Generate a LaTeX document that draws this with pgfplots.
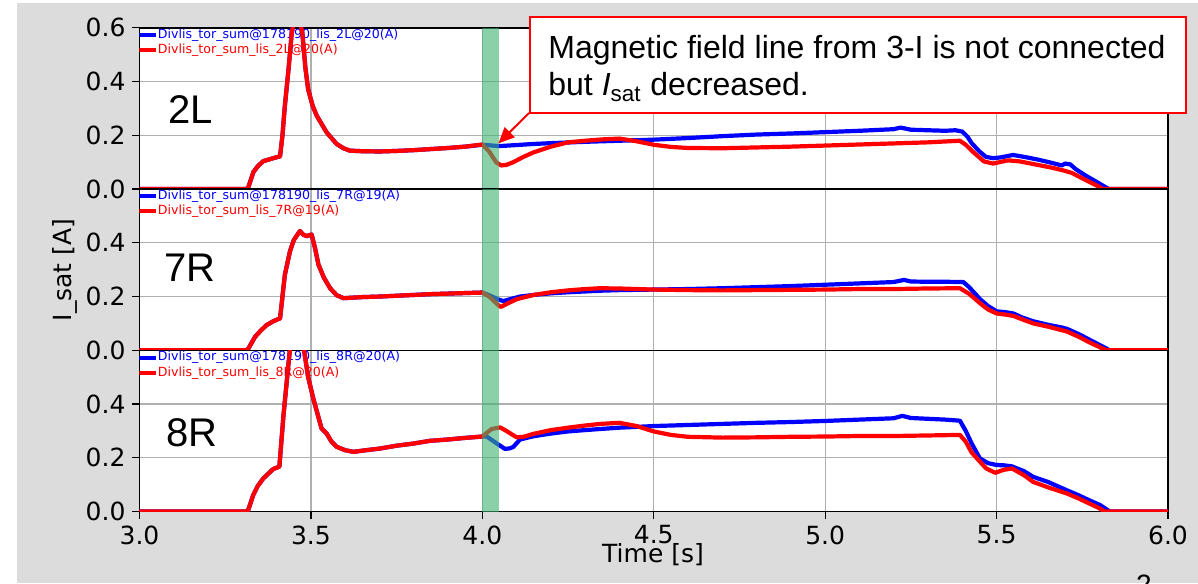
\documentclass[border=0pt]{standalone}
\usepackage{fontspec}
\setmainfont{DejaVu Sans}
\newfontfamily\arial{Liberation Sans}
\usepackage{pgfplots}
\pgfplotsset{compat=1.18}
\usetikzlibrary{arrows.meta}
\definecolor{bggray}{RGB}{220,220,220}
\definecolor{band}{RGB}{60,179,113}
\definecolor{gridgray}{RGB}{176,176,176}

\pgfplotsset{
  panel/.style={
    scale only axis, width=514.25pt, height=80.6pt, anchor=south west,
    xmin=3, xmax=6, ymin=0, ymax=0.6,
    xtick={3,3.5,4,4.5,5,5.5,6},
    grid=major, grid style={gridgray, line width=0.6pt},
    axis line style={line width=0.7pt},
    tick align=outside, tick pos=left, major tick length=3.5pt,
    tick style={black, line width=0.6pt},
    axis background/.style={fill=white},
    ticklabel style={font=\fontsize{12.5}{13}\selectfont},
    /pgf/number format/assume math mode=true,
    /pgf/number format/fixed, /pgf/number format/fixed zerofill,
    /pgf/number format/precision=1,
  },
  bl/.style={blue, line width=2.1pt, line join=round},
  rd/.style={red, line width=2.1pt, line join=round},
}
% legend drawn under the curves, as in the original
\newcommand{\leg}[2]{%
  \draw[blue, line width=2pt] (rel axis cs:0,0.955) -- (rel axis cs:0.0165,0.955);
  \node[anchor=west, inner sep=0, blue, font=\fontsize{6.3}{6.3}\selectfont] at (rel axis cs:0.0175,0.955) {#1};
  \draw[red, line width=2pt] (rel axis cs:0,0.861) -- (rel axis cs:0.0165,0.861);
  \node[anchor=west, inner sep=0, red, font=\fontsize{6.3}{6.3}\selectfont] at (rel axis cs:0.0175,0.861) {#2};
}
\newcommand{\band}{\fill[band, opacity=0.6] (axis cs:4.0,0) rectangle (axis cs:4.05,0.6);}

\begin{document}
\begin{tikzpicture}
\fill[white] (0,0) rectangle (599pt,291.5pt);
\fill[bggray] (8.5pt,0) rectangle (599pt,290pt);

% ---- 2L ----
\begin{axis}[panel, at={(69.75pt,196.95pt)}, xticklabels={}, ytick={0,0.2,0.4,0.6}]
\leg{Divlis\_tor\_sum@178190\_lis\_2L@20(A)}{Divlis\_tor\_sum\_lis\_2L@20(A)}
\addplot[red, line width=1pt] coordinates {(3,0)(6,0)};
\addplot[bl] coordinates {
(3.0,0)(3.31,0)(3.317,0.005)(3.332,0.063)(3.345,0.085)(3.361,0.104)(3.39,0.115)(3.41,0.122)
(3.417,0.2)(3.424,0.31)(3.435,0.45)(3.444,0.58)(3.452,0.64)(3.466,0.64)(3.475,0.58)(3.484,0.45)
(3.492,0.371)(3.505,0.31)(3.517,0.273)(3.53,0.245)(3.546,0.211)(3.56,0.19)(3.575,0.168)
(3.595,0.152)(3.614,0.143)(3.65,0.141)(3.70,0.14)(3.75,0.142)(3.80,0.145)(3.85,0.149)
(3.90,0.153)(3.95,0.158)(4.0,0.165)(4.05,0.16)(4.1,0.164)(4.15,0.168)(4.2,0.171)(4.3,0.176)
(4.4,0.18)(4.5,0.184)(4.6,0.19)(4.7,0.197)(4.8,0.203)(4.9,0.207)(5.0,0.212)(5.1,0.217)
(5.2,0.223)(5.22,0.229)(5.25,0.221)(5.3,0.219)(5.35,0.217)(5.38,0.219)(5.40,0.214)
(5.415,0.195)(5.428,0.17)(5.45,0.14)(5.469,0.12)(5.49,0.115)(5.512,0.118)(5.548,0.127)
(5.58,0.12)(5.62,0.11)(5.66,0.098)(5.69,0.088)(5.70,0.095)(5.715,0.092)(5.73,0.075)
(5.76,0.05)(5.79,0.028)(5.822,0.004)(5.83,0)(6.0,0)};
\addplot[rd] coordinates {
(3.0,0)(3.31,0)(3.317,0.005)(3.332,0.063)(3.345,0.085)(3.361,0.104)(3.39,0.115)(3.41,0.122)
(3.417,0.2)(3.424,0.31)(3.435,0.45)(3.444,0.58)(3.452,0.64)(3.466,0.64)(3.475,0.58)(3.484,0.45)
(3.492,0.371)(3.505,0.31)(3.517,0.273)(3.53,0.245)(3.546,0.211)(3.56,0.19)(3.575,0.168)
(3.595,0.152)(3.614,0.143)(3.65,0.141)(3.70,0.14)(3.75,0.142)(3.80,0.145)(3.85,0.149)
(3.90,0.153)(3.95,0.158)(4.0,0.166)(4.02,0.14)(4.04,0.1)(4.055,0.088)(4.07,0.09)(4.09,0.1)
(4.12,0.12)(4.15,0.137)(4.2,0.158)(4.25,0.174)(4.3,0.18)(4.35,0.185)(4.4,0.188)(4.45,0.178)
(4.5,0.165)(4.55,0.157)(4.6,0.153)(4.7,0.152)(4.8,0.155)(4.9,0.158)(5.0,0.162)(5.1,0.166)
(5.2,0.17)(5.3,0.174)(5.393,0.18)(5.41,0.165)(5.43,0.14)(5.463,0.103)(5.49,0.095)(5.533,0.107)
(5.568,0.103)(5.62,0.09)(5.66,0.08)(5.696,0.069)(5.72,0.06)(5.75,0.04)(5.794,0.012)(5.81,0)(6.0,0)};
\band
\end{axis}

% ---- 7R ----
\begin{axis}[panel, at={(69.75pt,116.35pt)}, xticklabels={}, ytick={0,0.2,0.4}]
\leg{Divlis\_tor\_sum@178190\_lis\_7R@19(A)}{Divlis\_tor\_sum\_lis\_7R@19(A)}
\addplot[bl] coordinates {
(3.0,0)(3.31,0)(3.317,0.005)(3.337,0.05)(3.355,0.075)(3.371,0.094)(3.39,0.108)(3.41,0.119)
(3.417,0.2)(3.424,0.281)(3.439,0.369)(3.45,0.41)(3.468,0.444)(3.478,0.43)(3.488,0.425)
(3.502,0.431)(3.512,0.38)(3.522,0.319)(3.538,0.27)(3.556,0.231)(3.575,0.205)(3.595,0.194)
(3.65,0.198)(3.70,0.2)(3.75,0.203)(3.80,0.206)(3.85,0.209)(3.9,0.211)(3.95,0.213)(4.0,0.215)
(4.02,0.205)(4.045,0.19)(4.061,0.183)(4.08,0.19)(4.11,0.2)(4.149,0.206)(4.2,0.212)(4.25,0.216)
(4.3,0.219)(4.35,0.222)(4.4,0.224)(4.5,0.226)(4.6,0.228)(4.7,0.231)(4.8,0.235)(4.9,0.239)
(5.0,0.244)(5.1,0.249)(5.2,0.254)(5.23,0.262)(5.25,0.256)(5.3,0.255)(5.35,0.255)(5.403,0.254)
(5.42,0.235)(5.452,0.19)(5.475,0.165)(5.5,0.145)(5.525,0.142)(5.549,0.137)(5.575,0.122)
(5.607,0.108)(5.65,0.095)(5.69,0.085)(5.705,0.08)(5.74,0.06)(5.77,0.04)(5.802,0.019)(5.83,0)(6.0,0)};
\addplot[rd] coordinates {
(3.0,0)(3.31,0)(3.317,0.005)(3.337,0.05)(3.355,0.075)(3.371,0.094)(3.39,0.108)(3.41,0.119)
(3.417,0.2)(3.424,0.281)(3.439,0.369)(3.45,0.41)(3.468,0.444)(3.478,0.43)(3.488,0.425)
(3.502,0.431)(3.512,0.38)(3.522,0.319)(3.538,0.27)(3.556,0.231)(3.575,0.205)(3.595,0.194)
(3.65,0.198)(3.70,0.2)(3.75,0.203)(3.80,0.206)(3.85,0.209)(3.9,0.211)(3.95,0.213)(4.0,0.215)
(4.02,0.2)(4.05,0.164)(4.055,0.162)(4.075,0.175)(4.1,0.19)(4.149,0.206)(4.2,0.216)(4.25,0.223)
(4.3,0.228)(4.343,0.231)(4.4,0.23)(4.5,0.226)(4.6,0.224)(4.7,0.223)(4.8,0.224)(4.9,0.225)
(5.0,0.226)(5.1,0.228)(5.2,0.228)(5.3,0.23)(5.393,0.231)(5.42,0.21)(5.452,0.175)(5.475,0.152)
(5.5,0.137)(5.525,0.133)(5.549,0.128)(5.575,0.115)(5.607,0.1)(5.65,0.088)(5.705,0.07)
(5.74,0.05)(5.77,0.03)(5.80,0.012)(5.82,0)(6.0,0)};
\band
\end{axis}

% ---- 8R ----
\begin{axis}[panel, at={(69.75pt,35.75pt)}, ytick={0,0.2,0.4}]
\leg{Divlis\_tor\_sum@178190\_lis\_8R@20(A)}{Divlis\_tor\_sum\_lis\_8R@20(A)}
\addplot[bl] coordinates {
(3.0,0)(3.31,0)(3.317,0.005)(3.332,0.062)(3.345,0.095)(3.361,0.123)(3.39,0.158)(3.408,0.167)
(3.42,0.358)(3.434,0.543)(3.442,0.64)(3.472,0.64)(3.48,0.6)(3.492,0.5)(3.507,0.42)(3.52,0.36)
(3.531,0.309)(3.546,0.29)(3.56,0.26)(3.575,0.241)(3.6,0.228)(3.624,0.222)(3.66,0.228)
(3.70,0.234)(3.75,0.245)(3.8,0.253)(3.847,0.263)(3.9,0.268)(3.95,0.274)(4.0,0.279)
(4.013,0.279)(4.04,0.255)(4.066,0.233)(4.08,0.235)(4.09,0.24)(4.11,0.268)(4.149,0.28)
(4.2,0.29)(4.25,0.298)(4.3,0.303)(4.343,0.307)(4.4,0.312)(4.5,0.318)(4.6,0.322)(4.7,0.326)
(4.8,0.33)(4.9,0.333)(5.0,0.337)(5.1,0.342)(5.2,0.347)(5.225,0.356)(5.25,0.348)(5.3,0.345)
(5.35,0.342)(5.393,0.338)(5.41,0.3)(5.427,0.254)(5.451,0.198)(5.475,0.18)(5.5,0.173)
(5.52,0.172)(5.545,0.168)(5.58,0.15)(5.607,0.129)(5.65,0.11)(5.705,0.079)(5.74,0.06)
(5.77,0.042)(5.802,0.024)(5.83,0)(6.0,0)};
\addplot[rd] coordinates {
(3.0,0)(3.31,0)(3.317,0.005)(3.332,0.062)(3.345,0.095)(3.361,0.123)(3.39,0.158)(3.408,0.167)
(3.42,0.358)(3.434,0.543)(3.442,0.64)(3.472,0.64)(3.48,0.6)(3.492,0.5)(3.507,0.42)(3.52,0.36)
(3.531,0.309)(3.546,0.29)(3.56,0.26)(3.575,0.241)(3.6,0.228)(3.624,0.222)(3.66,0.228)
(3.70,0.234)(3.75,0.245)(3.8,0.253)(3.847,0.263)(3.9,0.268)(3.95,0.274)(4.0,0.279)
(4.015,0.295)(4.027,0.307)(4.052,0.313)(4.07,0.3)(4.1,0.276)(4.12,0.278)(4.149,0.289)
(4.2,0.303)(4.25,0.312)(4.3,0.32)(4.343,0.326)(4.4,0.33)(4.45,0.318)(4.5,0.298)(4.55,0.285)
(4.6,0.278)(4.7,0.275)(4.8,0.276)(4.9,0.278)(5.0,0.279)(5.1,0.281)(5.2,0.281)(5.3,0.283)
(5.393,0.285)(5.41,0.26)(5.427,0.22)(5.451,0.186)(5.47,0.16)(5.496,0.144)(5.52,0.155)
(5.545,0.16)(5.58,0.135)(5.607,0.11)(5.65,0.09)(5.705,0.067)(5.74,0.048)(5.77,0.03)
(5.8,0.012)(5.815,0)(6.0,0)};
\band
\end{axis}

% labels
\node[rotate=90, font=\fontsize{12.5}{13}\selectfont] at (32.5pt,156.5pt) {I\_sat [A]};
\node[font=\fontsize{12.5}{13}\selectfont] at (326.5pt,14pt) {Time [s]};
\node[font=\arial\fontsize{20}{22}\selectfont] at (95.25pt,236.5pt) {2L};
\node[font=\arial\fontsize{20}{22}\selectfont] at (95pt,157.5pt) {7R};
\node[font=\arial\fontsize{20}{22}\selectfont] at (96pt,75pt) {8R};

% annotation
\draw[red, line width=1pt, fill=white] (265pt,235pt) rectangle (593pt,283pt);
\node[anchor=base west, inner sep=0, font=\arial\fontsize{16}{18.5}\selectfont]
  at (274pt,262pt) {Magnetic field line from 3-I is not connected};
\node[anchor=base west, inner sep=0, font=\arial\fontsize{16}{18.5}\selectfont]
  at (274pt,243.5pt) {but \textit{I}\textsubscript{sat} decreased.};
\draw[red, line width=1pt, -{Triangle[length=8pt, width=7pt]}] (264.5pt,235pt) -- (249.2pt,219.8pt);
\node[anchor=north, inner sep=0, font=\arial\fontsize{14}{14}\selectfont] at (572pt,4pt) {2};

\pgfresetboundingbox
\path[use as bounding box] (0,0) rectangle (599pt,291.5pt);
\end{tikzpicture}
\end{document}
